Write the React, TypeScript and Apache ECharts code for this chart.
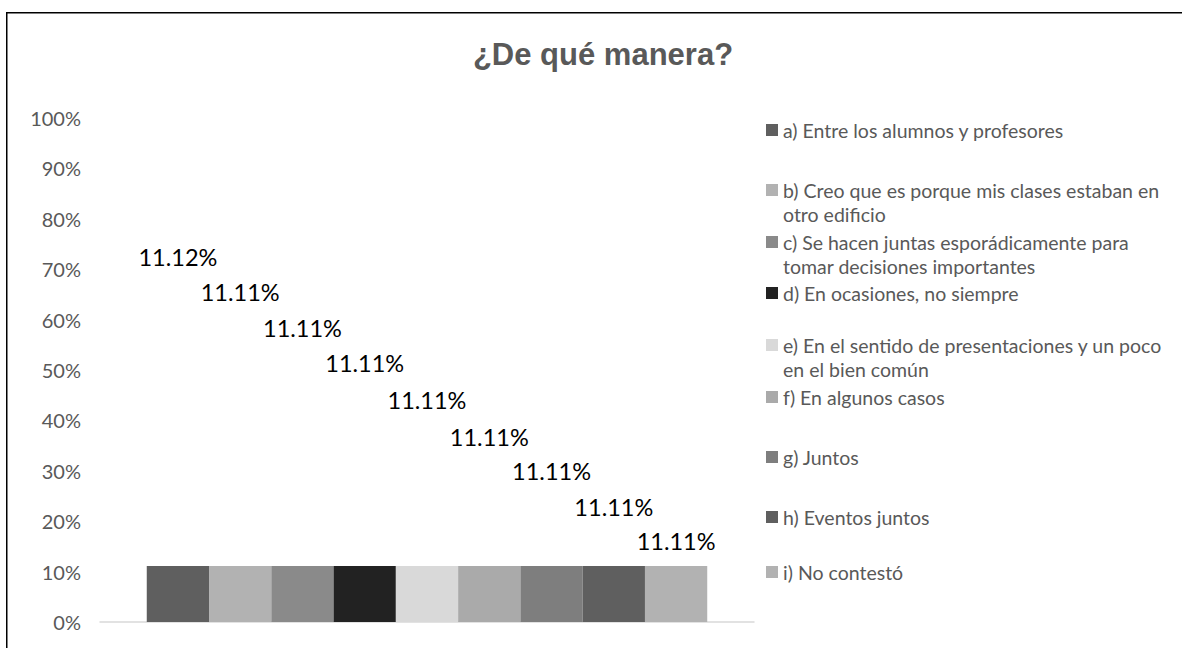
import React, { useEffect, useRef } from "react";
import * as echarts from "echarts";

const categories = [
  "a) Entre los alumnos y profesores",
  "b) Creo que es porque mis clases estaban en otro edificio",
  "c) Se hacen juntas esporádicamente para tomar decisiones importantes",
  "d) En ocasiones, no siempre",
  "e) En el sentido de presentaciones y un poco en el bien común",
  "f) En algunos casos",
  "g) Juntos",
  "h) Eventos juntos",
  "i) No contestó",
];
const legendLines = [
  ["a) Entre los alumnos y profesores"],
  ["b) Creo que es porque mis clases estaban en", "otro edificio"],
  ["c) Se hacen juntas esporádicamente para", "tomar decisiones importantes"],
  ["d) En ocasiones, no siempre"],
  ["e) En el sentido de presentaciones y un poco", "en el bien común"],
  ["f) En algunos casos"],
  ["g) Juntos"],
  ["h) Eventos juntos"],
  ["i) No contestó"],
];
const values = [11.12, 11.11, 11.11, 11.11, 11.11, 11.11, 11.11, 11.11, 11.11];
const colors = ["#5f5f5f", "#b2b2b2", "#8a8a8a", "#222222", "#d9d9d9", "#aaaaaa", "#7e7e7e", "#5f5f5f", "#b2b2b2"];

// layout constants (label offsets above bar tops, legend first-line centres)
const labelOffsets = [-309, -274, -238, -203, -166, -129, -95, -59, -25];
const legendCenters = [130, 190, 242, 293, 345, 397, 457, 517, 572];

const FONT = "Lato, 'Open Sans', sans-serif";

export default function App() {
  const ref = useRef<HTMLDivElement>(null);
  useEffect(() => {
    if (!ref.current) return;
    const chart = echarts.init(ref.current, null, { renderer: "svg" });
    const LH = 24;
    const legends = categories.map((name, i) => {
      const lines = legendLines[i];
      const multi = lines.length > 1;
      return {
        data: [name],
        left: 766,
        top: multi ? legendCenters[i] - LH * 1.5 : legendCenters[i] - LH / 2,
        padding: 0,
        itemWidth: 12,
        itemHeight: 12,
        itemGap: 0,
        icon: "rect",
        selectedMode: false,
        formatter: () => (multi ? "\u00a0\n" + lines.join("\n") : lines[0]),
        textStyle: { color: "#595959", fontSize: 19.5, fontFamily: FONT, lineHeight: LH },
      };
    });
    chart.setOption({
      animation: false,
      backgroundColor: "#ffffff",
      title: {
        text: "¿De qué manera?",
        left: 598,
        textAlign: "center",
        top: 34,
        textStyle: { color: "#595959", fontSize: 31, fontWeight: "bold", fontFamily: "'Liberation Sans', Arial, sans-serif" },
      },
      graphic: [
        {
          type: "rect",
          shape: { x: 6.75, y: 12.75, width: 1400, height: 900 },
          style: { fill: "none", stroke: "#000000", lineWidth: 1.5 },
          silent: true,
        },
      ],
      legend: legends,
      grid: { left: 100, right: 428, top: 118, bottom: 26, containLabel: false },
      xAxis: {
        type: "category",
        data: [""],
        axisLine: { lineStyle: { color: "#d9d9d9", width: 1.5 } },
        axisTick: { show: false },
        axisLabel: { show: false },
      },
      yAxis: {
        type: "value",
        min: 0,
        max: 100,
        interval: 10,
        splitLine: { show: false },
        axisLine: { show: false },
        axisTick: { show: false },
        axisLabel: {
          formatter: "{value}%",
          color: "#595959",
          fontSize: 20,
          fontFamily: FONT,
          margin: 19,
        },
      },
      series: categories.map((name, i) => ({
        type: "bar",
        name,
        data: [values[i]],
        barGap: "0%",
        barCategoryGap: "14.3%",
        itemStyle: { color: colors[i] },
        label: {
          show: true,
          position: ["50%", labelOffsets[i]],
          align: "center",
          verticalAlign: "middle",
          formatter: (p: any) => p.value.toFixed(2) + "%",
          color: "#000000",
          fontSize: 23.5,
          fontFamily: FONT,
        },
      })),
    });
    return () => chart.dispose();
  }, []);
  return (
    <div
      ref={ref}
      style={{ position: "fixed", left: 0, top: 0, width: 1182, height: 648 }}
    />
  );
}
